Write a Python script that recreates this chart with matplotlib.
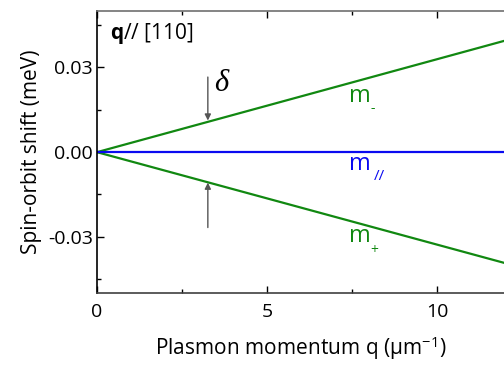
import matplotlib
matplotlib.use("Agg")
import matplotlib.pyplot as plt
import numpy as np

plt.rcParams['font.family'] = ['Open Sans', 'DejaVu Sans']
plt.rcParams['mathtext.fontset'] = 'custom'
plt.rcParams['mathtext.rm'] = 'Open Sans'
plt.rcParams['mathtext.bf'] = 'Open Sans:bold'
plt.rcParams['mathtext.it'] = 'Liberation Serif:italic'

# data
q = [0, 12]
m_minus = [0.0, 0.0395]
m_par = [0.0, 0.0]
m_plus = [0.0, -0.0393]
xticks = [0, 5, 10]
yticks = [-0.03, 0.0, 0.03]
ytick_labels = ['-0.03', '0.00', '0.03']
arrow_q = 3.26
arrow_top = (0.0266, 0.0112)
arrow_bot = (-0.0267, -0.0108)

fig = plt.figure(figsize=(5.04, 3.65), dpi=100)
ax = fig.add_axes([97/504, 1-293.3/365, 408/504, (293.3-11)/365])

green = '#118811'
blue = '#0a0af0'
ax.plot(q, m_minus, color=green, lw=1.6)
ax.plot(q, m_plus, color=green, lw=1.6)
ax.plot(q, m_par, color=blue, lw=1.6)

ax.set_xlim(0, 12)
ax.set_ylim(-0.05, 0.05)
ax.set_xticks(xticks)
ax.set_xticks([2.5, 7.5], minor=True)
ax.set_yticks(yticks)
ax.set_yticklabels(ytick_labels)
ax.set_yticks([-0.045, -0.015, 0.015, 0.045], minor=True)
ax.tick_params(which='both', direction='in', top=True, right=False, labelsize=14)
ax.tick_params(which='major', length=5, width=1)
ax.tick_params(which='minor', length=3, width=1)
ax.tick_params(axis='x', pad=7)
ax.tick_params(axis='y', pad=3)

ax.spines['left'].set_color('black')
ax.spines['bottom'].set_color('#404040')
ax.spines['top'].set_color('#707070')
ax.spines['right'].set_visible(False)
for s in ['left', 'bottom', 'top']:
    ax.spines[s].set_linewidth(1.2)

ax.set_xlabel(r'Plasmon momentum q (μm$^{-1}$)', fontsize=15, labelpad=10)
ax.set_ylabel('Spin-orbit shift (meV)', fontsize=15, labelpad=4)

ax.text(0.38, 0.0421, r'$\mathbf{q}$// [110]', fontsize=15, va='center', ha='left')

# arrows
for a in (arrow_top, arrow_bot):
    ax.annotate('', xy=(arrow_q, a[1]), xytext=(arrow_q, a[0]),
                arrowprops=dict(arrowstyle='-|>', color='#555555', lw=1, mutation_scale=9,
                                shrinkA=0, shrinkB=0))
ax.text(3.68, 0.0245, r'$\delta$', fontsize=22, va='center', ha='center')

# mode labels
ax.text(7.41, 0.0177, 'm', color=green, fontsize=17, ha='left', va='baseline')
ax.text(8.12, 0.0156, '-', color=green, fontsize=10, ha='center', va='center')
ax.text(7.41, -0.00625, 'm', color=blue, fontsize=17, ha='left', va='baseline')
ax.text(8.32, -0.0085, '//', color=blue, fontsize=11, ha='center', va='center')
ax.text(7.41, -0.032, 'm', color=green, fontsize=17, ha='left', va='baseline')
ax.text(8.14, -0.0348, '+', color=green, fontsize=10, ha='center', va='center')

fig.savefig('out.png', dpi=100)
